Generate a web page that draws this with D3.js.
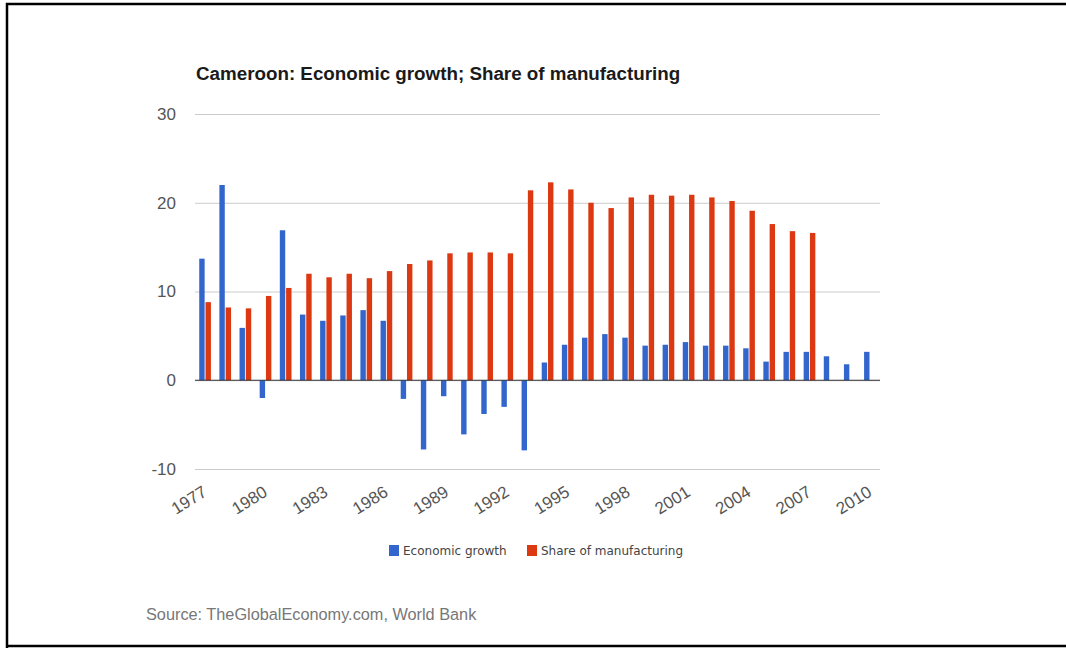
<!DOCTYPE html>
<html>
<head>
<meta charset="utf-8">
<script src="https://cdn.jsdelivr.net/npm/d3@7"></script>
<style>
  html, body { margin: 0; padding: 0; background: #fff; }
  svg { display: block; }
</style>
</head>
<body>
<svg id="chart" width="1066" height="648"></svg>
<script>
// Years on the category axis
const years = d3.range(1977, 2011);

// Real GDP growth, % (1977–2010)
const economicGrowth = [
  13.7, 22.0, 5.9, -2.0, 16.9, 7.4, 6.7, 7.3, 7.9, 6.7,
  -2.1, -7.8, -1.8, -6.1, -3.8, -3.0, -7.9, 2.0, 4.0, 4.8,
  5.2, 4.8, 3.9, 4.0, 4.3, 3.9, 3.9, 3.6, 2.1, 3.2,
  3.2, 2.7, 1.8, 3.2
];

// Manufacturing, % of GDP (no data after 2007)
const shareOfManufacturing = [
  8.8, 8.2, 8.1, 9.5, 10.4, 12.0, 11.6, 12.0, 11.5, 12.3,
  13.1, 13.5, 14.3, 14.4, 14.4, 14.3, 21.4, 22.3, 21.5, 20.0,
  19.4, 20.6, 20.9, 20.8, 20.9, 20.6, 20.2, 19.1, 17.6, 16.8,
  16.6, null, null, null
];

const yTicks = [-10, 0, 10, 20, 30];
const xTickYears = d3.range(1977, 2011, 3);

const seriesNames = ["Economic growth", "Share of manufacturing"];
const seriesColors = ["#3366cc", "#dc3912"];

const svg = d3.select("#chart");

// Frame around the page
svg.append("path")
  .attr("d", "M7,648 L7,4 L1066,4 M7,646 L1066,646")
  .attr("fill", "none")
  .attr("stroke", "#000")
  .attr("stroke-width", 2.5);

const plot = { left: 195, right: 880, top: 114, bottom: 469 };

const x0 = d3.scaleBand()
  .domain(years)
  .range([plot.left, plot.right])
  .paddingInner(0.42)
  .paddingOuter(0.21);

const x1 = d3.scaleBand()
  .domain([0, 1])
  .range([0, x0.bandwidth()])
  .paddingInner(0.14);

const y = d3.scaleLinear()
  .domain([-10, 30])
  .range([plot.bottom, plot.top]);

// Title
svg.append("text")
  .attr("x", 196)
  .attr("y", 80)
  .attr("font-family", "Arial, 'Liberation Sans', sans-serif")
  .attr("font-weight", "bold")
  .attr("font-size", 18.8)
  .attr("fill", "#1a1a1a")
  .text("Cameroon: Economic growth; Share of manufacturing");

// Horizontal gridlines and value labels
const yAxis = d3.axisLeft(y)
  .tickValues(yTicks)
  .tickSize(-(plot.right - plot.left))
  .tickPadding(19)
  .tickFormat(d => String(d));

const gy = svg.append("g")
  .attr("transform", `translate(${plot.left},0)`)
  .call(yAxis);
gy.select(".domain").remove();
gy.selectAll(".tick line")
  .attr("stroke", "#cccccc")
  .attr("stroke-width", 1);
gy.selectAll(".tick text")
  .attr("font-family", "Arial, 'Liberation Sans', sans-serif")
  .attr("font-size", 17)
  .attr("fill", "#555");

// Bars
const rows = years.map((yr, i) => ({
  year: yr,
  values: [economicGrowth[i], shareOfManufacturing[i]]
}));

const groups = svg.append("g")
  .selectAll("g")
  .data(rows)
  .join("g")
  .attr("transform", d => `translate(${x0(d.year)},0)`);

groups.selectAll("rect")
  .data(d => d.values.map((v, k) => ({ k, v })).filter(e => e.v !== null))
  .join("rect")
  .attr("x", e => x1(e.k))
  .attr("width", x1.bandwidth())
  .attr("y", e => y(Math.max(0, e.v)))
  .attr("height", e => Math.abs(y(e.v) - y(0)))
  .attr("fill", e => seriesColors[e.k]);

// Zero baseline
svg.append("line")
  .attr("x1", plot.left)
  .attr("x2", plot.right)
  .attr("y1", y(0))
  .attr("y2", y(0))
  .attr("stroke", "#333")
  .attr("stroke-width", 1.2);

// Year labels, slanted
const xAxis = d3.axisBottom(x0)
  .tickValues(xTickYears)
  .tickSize(0)
  .tickPadding(0);

const gx = svg.append("g")
  .attr("transform", `translate(0,${plot.bottom})`)
  .call(xAxis);
gx.select(".domain").remove();
gx.selectAll(".tick text")
  .attr("font-family", "Arial, 'Liberation Sans', sans-serif")
  .attr("font-size", 17)
  .attr("fill", "#555")
  .attr("text-anchor", "end")
  .attr("dy", null)
  .attr("transform", "translate(3,26) rotate(-32)");

// Legend
const legend = svg.append("g")
  .attr("font-family", "Tahoma, 'DejaVu Sans', sans-serif")
  .attr("font-size", 12)
  .attr("fill", "#444");

const legendX = [389, 527];
seriesNames.forEach((name, k) => {
  legend.append("rect")
    .attr("x", legendX[k])
    .attr("y", 545)
    .attr("width", 10)
    .attr("height", 11)
    .attr("fill", seriesColors[k]);
  legend.append("text")
    .attr("x", legendX[k] + 14)
    .attr("y", 555)
    .text(name);
});

// Source line
svg.append("text")
  .attr("x", 146)
  .attr("y", 620)
  .attr("font-family", "Arial, 'Liberation Sans', sans-serif")
  .attr("font-size", 16.3)
  .attr("fill", "#777")
  .text("Source: TheGlobalEconomy.com, World Bank");
</script>
</body>
</html>
